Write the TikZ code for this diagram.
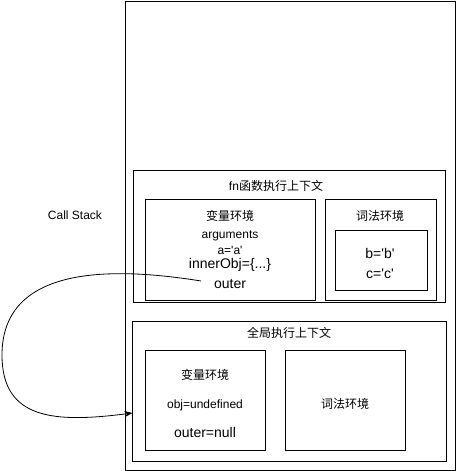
\documentclass[tikz,border=0pt]{standalone}
\usepackage{fontspec}
\setmainfont{Liberation Sans}
\newfontfamily\cjk{Noto Sans CJK SC}
\usetikzlibrary{arrows.meta}
\newcommand\sq{\textquotesingle}
\tikzset{
  box/.style={draw=black, line width=1pt, rectangle, outer sep=0pt, inner sep=0pt},
  txt/.style={inner sep=0pt, outer sep=0pt, font=\fontsize{12}{14}\selectfont},
  btxt/.style={txt, font=\fontsize{14}{16}\selectfont},
  link/.style={draw=black, line width=0.8pt, -{Stealth[length=8pt,width=6pt]}}
}
\begin{document}
\begin{tikzpicture}[x=1pt,y=1pt]
\useasboundingbox (0,0) rectangle (457,-471);
% boxes
\node[box, minimum width=329.5, minimum height=468.5] (stack) at (290.25,-235.75) {};
\node[box, minimum width=311.5, minimum height=132] (fnctx) at (289.25,-236) {};
\node[box, minimum width=170, minimum height=100.5] (fnvar) at (230,-249.75) {};
\node[box, minimum width=111, minimum height=100.5] (fnlex) at (380.5,-249.75) {};
\node[box, minimum width=92, minimum height=60] (inner) at (381,-260) {};
\node[box, minimum width=313.5, minimum height=140] (gctx) at (289.25,-391) {};
\node[box, minimum width=120, minimum height=100] (gvar) at (205.5,-400) {};
\node[box, minimum width=120, minimum height=100] (glex) at (345.5,-400) {};
% texts
\node[txt] (callstack) at (75,-215) {Call Stack};
\node[txt] (fntitle) at (276,-186) {fn{\cjk 函数执行上下文}};
\node[txt] (fnvartitle) at (230,-216) {\cjk 变量环境};
\node[txt] (args) at (230,-236) {arguments};
\node[txt] (aeq) at (230,-250) {a=\sq a\sq};
\node[btxt] (inobj) at (230,-265) {innerObj=\{...\}};
\node[btxt] (outer) at (230,-284.5) {outer};
\node[txt] (fnlextitle) at (380,-216) {\cjk 词法环境};
\node[btxt] (bval) at (380,-253.5) {b=\sq b\sq};
\node[btxt] (cval) at (380,-273.5) {c=\sq c\sq};
\node[txt] (gtitle) at (289,-333) {\cjk 全局执行上下文};
\node[txt] (gvartitle) at (205,-375) {\cjk 变量环境};
\node[txt] (objundef) at (205,-405) {obj=undefined};
\node[btxt] (outernull) at (205,-432) {outer=null};
\node[txt] (glextitle) at (345,-404) {\cjk 词法环境};
% connector
\draw[link] ([shift={(-13,3.5)}]outer.west) .. controls (120,-268) and (2,-262) .. (2,-355)
  .. controls (2,-420) and (55,-423) .. ([yshift=-22]gctx.west);
\end{tikzpicture}
\end{document}
